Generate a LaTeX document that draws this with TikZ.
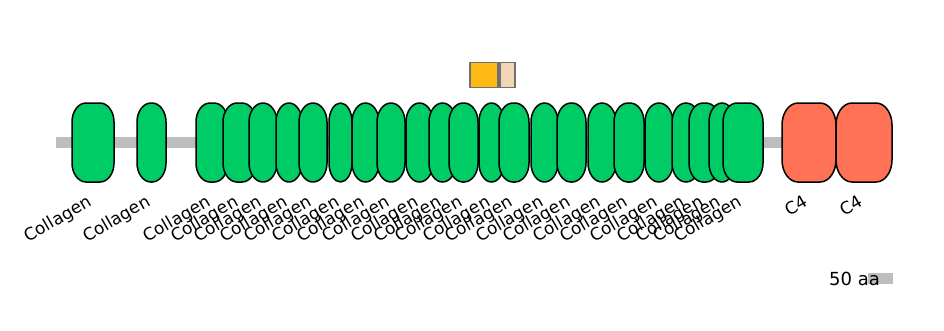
\documentclass[tikz,border=0pt]{standalone}
\usepackage{fontspec}
\setmainfont{DejaVu Sans}
\definecolor{collg}{RGB}{0,204,102}
\definecolor{cfour}{RGB}{255,114,86}
\definecolor{bbone}{RGB}{190,190,190}
\definecolor{motifA}{RGB}{255,185,20}
\definecolor{motifB}{RGB}{242,212,182}
\definecolor{motifline}{RGB}{112,112,112}
% rounded domain outline: left x, right x, corner x radius, corner y radius (top 103, bottom 182)
\newcommand\dompath[4]{(#1,103+#4) .. controls (#1,103+0.448*#4) and (#1+0.448*#3,103) .. (#1+#3,103) -- (#2-#3,103) .. controls (#2-0.448*#3,103) and (#2,103+0.448*#4) .. (#2,103+#4) -- (#2,182-#4) .. controls (#2,182-0.448*#4) and (#2-0.448*#3,182) .. (#2-#3,182) -- (#1+#3,182) .. controls (#1+0.448*#3,182) and (#1,182-0.448*#4) .. (#1,182-#4) -- cycle}
\begin{document}
\begin{tikzpicture}[x=1pt,y=-1pt,
  dombox/.style={draw=black, line width=1.5pt, line join=round},
  domlabel/.style={rotate=30, anchor=base east, inner sep=0pt, font=\fontsize{17}{20}\selectfont},
  motifbox/.style={draw=motifline, line width=1.8pt, inner sep=0pt, minimum height=25pt, rectangle}]
\useasboundingbox[fill=white] (0,0) rectangle (944,330);
% backbone
\node[fill=bbone, inner sep=0pt, minimum height=11pt, minimum width=780pt, anchor=west] (backbone) at (56,142.5) {};
% collagen domains
\foreach \a/\b [count=\i] in {72/114,137/166,196/228,223/256,249/277,276/302,299/327,329/352,352/379,377/405,406/433,429/456,449/478,479/504,499/529,531/558,557/586,588/616,614/644,645/673,672/700,689/720,709/735,723/763}{
  \pgfmathsetmacro{\w}{\b-\a}
  \pgfmathsetmacro{\c}{(\a+\b)/2}
  \pgfmathsetmacro{\r}{min(14,\w/2)}
  \draw[dombox, fill=collg] \dompath{\a}{\b}{\r}{19};
  \coordinate (col\i) at (\c,142.5);
  \node[domlabel] (lab\i) at (\c,205) {Collagen};
}
% C4 domains
\draw[dombox, fill=cfour] \dompath{782}{836}{16}{22};
\draw[dombox, fill=cfour] \dompath{836}{892}{16}{22};
\coordinate (cfa) at (809,142.5);
\coordinate (cfb) at (864,142.5);
\node[domlabel] (labcfa) at (809,205) {C4};
\node[domlabel] (labcfb) at (864,205) {C4};
% motif boxes
\node[motifbox, fill=motifA, minimum width=28pt, anchor=west] (motA) at (469,75) {};
\node[motifbox, fill=motifB, minimum width=15pt, anchor=west] (motB) at (motA.east) {};
% scale bar
\node[fill=bbone, inner sep=0pt, minimum height=11pt, minimum width=25pt, anchor=west] (scalebar) at (868,278.5) {};
\node[anchor=base west, inner sep=0pt, font=\fontsize{18}{21}\selectfont] (scaletext) at (829,285) {50 aa};
\end{tikzpicture}
\end{document}
